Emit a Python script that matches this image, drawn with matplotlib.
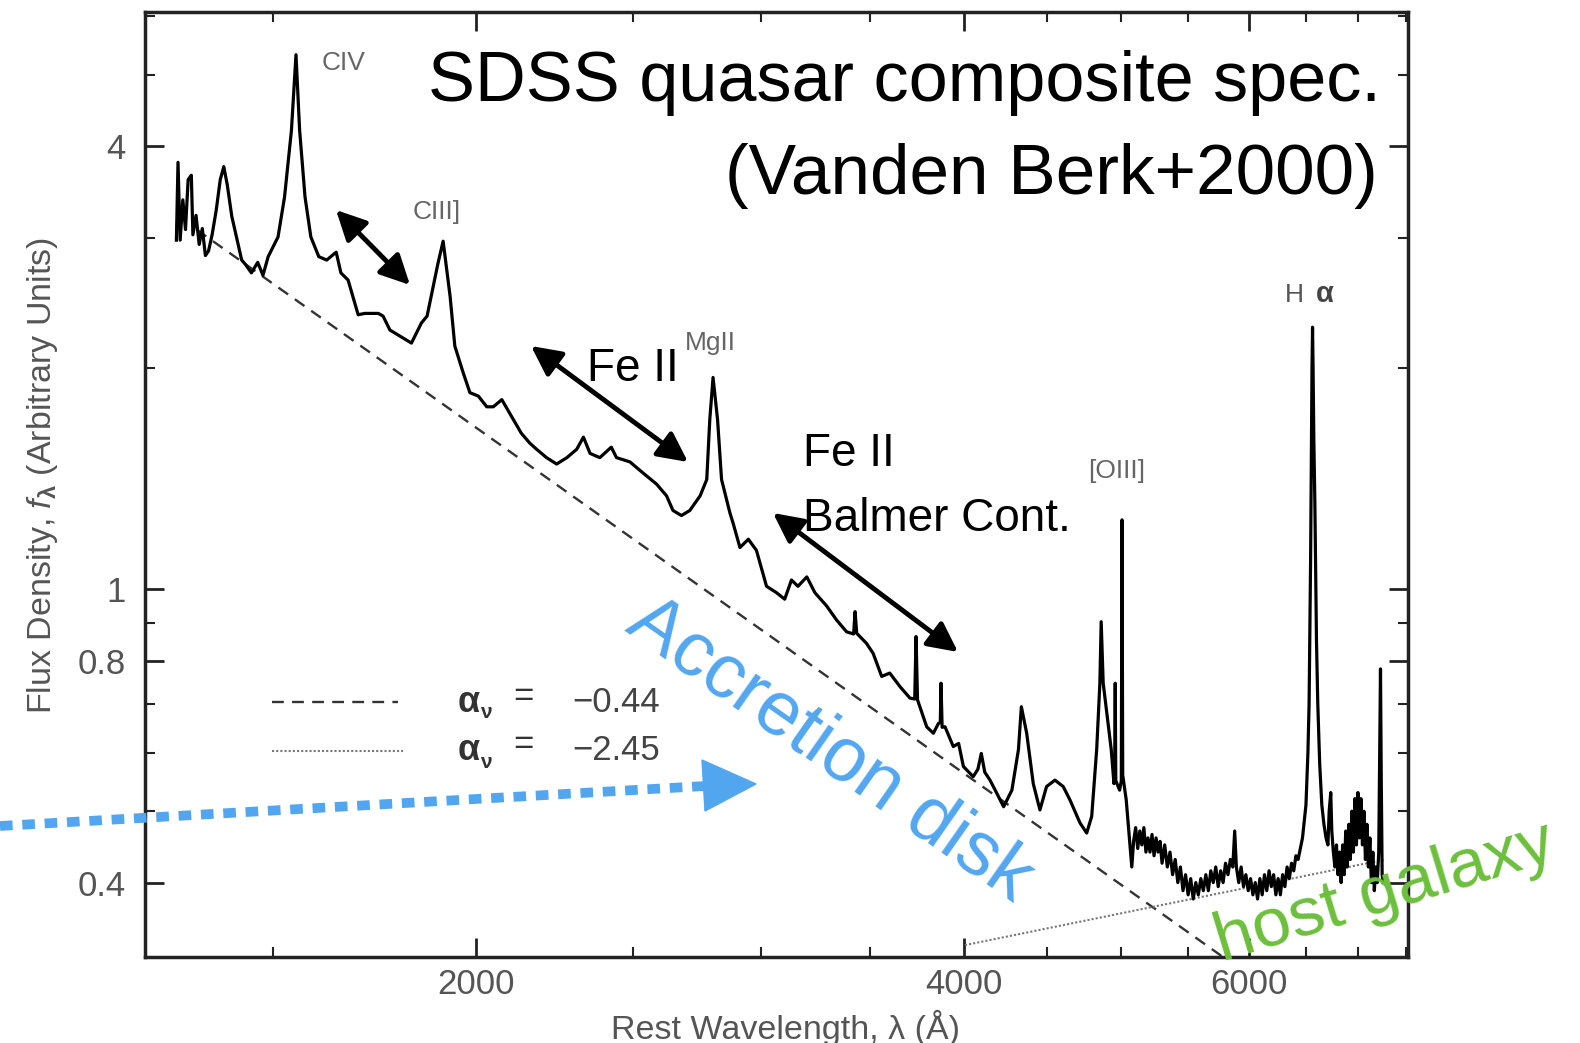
import numpy as np
import matplotlib.pyplot as plt
from matplotlib.ticker import FixedLocator, FixedFormatter, NullFormatter
from matplotlib.patches import Polygon

# composite spectrum (rest wavelength in A, f_lambda arbitrary)
wave = [1307, 1310, 1314, 1319, 1324, 1329, 1335, 1338, 1344, 1350,
        1356, 1362, 1368, 1375, 1383, 1391, 1398, 1405, 1414, 1434,
        1442, 1454, 1467, 1478, 1489, 1510, 1524, 1539, 1549, 1557,
        1569, 1582, 1600, 1618, 1640, 1651, 1668, 1692, 1708, 1741,
        1753, 1770, 1800, 1825, 1851, 1866, 1895, 1909, 1928, 1941,
        1964, 1983, 2007, 2031, 2050, 2075, 2100, 2133, 2159, 2180,
        2211, 2243, 2276, 2308, 2330, 2352, 2385, 2424, 2442, 2489,
        2535, 2585, 2622, 2646, 2678, 2710, 2750, 2776, 2788, 2801,
        2819, 2835, 2869, 2882, 2910, 2945, 2979, 3022, 3065, 3101,
        3131, 3160, 3200, 3237, 3291, 3338, 3386, 3420, 3427, 3435,
        3483, 3516, 3559, 3600, 3653, 3705, 3730, 3737, 3745, 3794,
        3830, 3858, 3868, 3872, 3878, 3894, 3940, 3970, 3997, 4053,
        4080, 4100, 4120, 4151, 4191, 4232, 4282, 4322, 4340, 4373,
        4414, 4456, 4498, 4552, 4606, 4650, 4717, 4762, 4796, 4830,
        4852, 4861, 4875, 4931, 4950, 4955, 4959, 4963, 4990, 5002,
        5007, 5012, 5037, 5077, 5090, 5105, 5120, 5135, 5150, 5165,
        5180, 5195, 5210, 5225, 5240, 5255, 5270, 5285, 5300, 5320,
        5340, 5360, 5380, 5400, 5420, 5440, 5460, 5480, 5500, 5520,
        5540, 5560, 5580, 5600, 5620, 5640, 5660, 5680, 5700, 5720,
        5740, 5760, 5780, 5800, 5820, 5840, 5860, 5876, 5890, 5910,
        5930, 5950, 5970, 5990, 6010, 6030, 6050, 6070, 6090, 6110,
        6130, 6150, 6170, 6190, 6210, 6230, 6250, 6270, 6290, 6310,
        6330, 6350, 6370, 6390, 6410, 6430, 6450, 6470, 6490, 6502,
        6520, 6531, 6545, 6552, 6558, 6563, 6568, 6575, 6585, 6600,
        6612, 6630, 6650, 6670, 6690, 6708, 6720, 6735, 6745, 6760,
        6775, 6790, 6805, 6820, 6835, 6850, 6865, 6880, 6895, 6910,
        6925, 6940, 6955, 6970, 6985, 7000, 7015, 7030, 7045, 7060,
        7075, 7090, 7105, 7120, 7135, 7150, 7165, 7180, 7195, 7210,
        7220, 7228, 7236, 7245, 7255]
flux = [2.98, 3.80, 2.98, 3.38, 3.08, 3.60, 3.65, 3.03, 3.22, 2.94,
        3.09, 2.84, 2.88, 3.03, 3.27, 3.60, 3.75, 3.54, 3.21, 2.80,
        2.76, 2.69, 2.78, 2.67, 2.83, 3.01, 3.41, 4.20, 5.32, 4.20,
        3.41, 3.01, 2.83, 2.80, 2.87, 2.69, 2.63, 2.36, 2.37, 2.37,
        2.35, 2.25, 2.20, 2.16, 2.30, 2.35, 2.77, 2.97, 2.50, 2.14,
        1.97, 1.85, 1.83, 1.77, 1.77, 1.81, 1.73, 1.63, 1.58, 1.55,
        1.51, 1.48, 1.51, 1.55, 1.61, 1.53, 1.51, 1.56, 1.51, 1.49,
        1.44, 1.39, 1.34, 1.28, 1.26, 1.28, 1.34, 1.41, 1.70, 1.94,
        1.70, 1.41, 1.27, 1.23, 1.14, 1.17, 1.13, 1.01, 0.99, 0.97,
        1.03, 1.01, 1.04, 0.99, 0.95, 0.909, 0.876, 0.87, 0.933, 0.872,
        0.845, 0.819, 0.762, 0.770, 0.738, 0.712, 0.71, 0.863, 0.708, 0.651,
        0.638, 0.658, 0.66, 0.746, 0.65, 0.651, 0.612, 0.618, 0.575, 0.557,
        0.57, 0.599, 0.565, 0.551, 0.529, 0.507, 0.534, 0.606, 0.693, 0.638,
        0.545, 0.502, 0.540, 0.551, 0.540, 0.518, 0.482, 0.467, 0.492, 0.606,
        0.746, 0.904, 0.746, 0.606, 0.545, 0.56, 0.746, 0.55, 0.534, 0.55,
        1.243, 0.56, 0.518, 0.420, 0.455, 0.475, 0.445, 0.47, 0.45, 0.475,
        0.44, 0.46, 0.44, 0.465, 0.435, 0.46, 0.44, 0.455, 0.425, 0.45,
        0.42, 0.44, 0.41, 0.43, 0.40, 0.42, 0.39, 0.41, 0.385, 0.405,
        0.38, 0.40, 0.385, 0.405, 0.39, 0.41, 0.39, 0.415, 0.40, 0.42,
        0.395, 0.415, 0.40, 0.425, 0.41, 0.43, 0.42, 0.47, 0.42, 0.40,
        0.42, 0.395, 0.41, 0.39, 0.405, 0.385, 0.40, 0.38, 0.405, 0.385,
        0.41, 0.39, 0.415, 0.395, 0.41, 0.385, 0.405, 0.385, 0.41, 0.395,
        0.42, 0.405, 0.425, 0.415, 0.435, 0.43, 0.445, 0.46, 0.49, 0.51,
        0.60, 0.70, 1.10, 1.5, 2.0, 2.27, 2.0, 1.6, 1.3, 0.85,
        0.70, 0.58, 0.51, 0.48, 0.46, 0.45, 0.50, 0.53, 0.47, 0.44,
        0.42, 0.45, 0.41, 0.44, 0.40, 0.45, 0.41, 0.47, 0.42, 0.48,
        0.43, 0.50, 0.44, 0.52, 0.45, 0.53, 0.46, 0.52, 0.45, 0.50,
        0.43, 0.48, 0.42, 0.46, 0.40, 0.44, 0.39, 0.42, 0.40, 0.44,
        0.60, 0.78, 0.55, 0.41, 0.40]

# power-law continua (end points of the straight lines in log-log)
disk_wave = [1345, 6000]
disk_flux = [3.08, 0.299]
host_wave = [4006, 7280]
host_flux = [0.329, 0.430]

xmajor = [2000, 4000, 6000]
xminor = [1500, 2500, 3000, 3500, 4500, 5000, 5500, 6500, 7000, 7500]
ymajor = [0.4, 0.8, 1, 4]
ymajor_labels = ['0.4', '0.8', '1', '4']
yminor = [0.5, 0.6, 0.7, 0.9, 2, 3, 5, 6]

blue = '#52a6f0'
green = '#6cbf3c'
gray = '#555555'

plt.rcParams['font.family'] = ['Liberation Sans', 'DejaVu Sans']
plt.rcParams['mathtext.fontset'] = 'custom'
plt.rcParams['mathtext.rm'] = 'Liberation Sans'
plt.rcParams['mathtext.it'] = 'Liberation Sans:italic'
plt.rcParams['mathtext.bf'] = 'Liberation Sans:bold'

fig = plt.figure(figsize=(15.8, 10.43), dpi=100)
ax = fig.add_axes([145 / 1580, 1 - 957 / 1043, 1263 / 1580, 945 / 1043])
ax.plot(wave, flux, color='black', lw=2.3, zorder=3)
ax.plot(disk_wave, disk_flux, color='#333333', lw=1.7, dashes=(5, 3.5))
ax.plot(host_wave, host_flux, color='#777777', lw=1.5, dashes=(1, 1))
ax.set_xscale('log')
ax.set_yscale('log')
ax.set_xlim(1250, 7516)
ax.set_ylim(0.317, 6.08)

ax.xaxis.set_major_locator(FixedLocator(xmajor))
ax.xaxis.set_major_formatter(FixedFormatter([str(v) for v in xmajor]))
ax.xaxis.set_minor_locator(FixedLocator(xminor))
ax.xaxis.set_minor_formatter(NullFormatter())
ax.yaxis.set_major_locator(FixedLocator(ymajor))
ax.yaxis.set_major_formatter(FixedFormatter(ymajor_labels))
ax.yaxis.set_minor_locator(FixedLocator(yminor))
ax.yaxis.set_minor_formatter(NullFormatter())

ax.tick_params(which='both', direction='in', top=True, right=True, color='#222222')
ax.tick_params(which='major', length=14, width=2, labelsize=25, labelcolor=gray)
ax.tick_params(which='minor', length=7, width=1.5)
ax.tick_params(axis='x', which='major', pad=8)
ax.tick_params(axis='y', which='major', pad=14)
for s in ax.spines.values():
    s.set_linewidth(2.5)
    s.set_color('#222222')

ax.set_xlabel('Rest Wavelength, λ (Å)', fontsize=24.5, color=gray)
ax.xaxis.set_label_coords(0.507, -0.056)
ax.set_ylabel(r'Flux Density, $f_{\mathbf{\lambda}}$ (Arbitrary Units)', fontsize=24.5, color=gray)
ax.yaxis.set_label_coords(-0.067, 0.509)

# overlay in figure pixels for the annotations
ov = fig.add_axes([0, 0, 1, 1], zorder=5)
ov.set_xlim(0, 1580)
ov.set_ylim(1043, 0)
ov.axis('off')
ov.patch.set_alpha(0)

# legend of the power laws
ov.plot([272, 398], [702, 702], color='#333333', lw=1.7, dashes=(5, 3.5))
ov.plot([272, 403], [751, 751], color='#777777', lw=1.5, dashes=(1, 1))
for yy, val in [(702, '−0.44'), (751, '−2.45')]:
    ov.text(458, yy, 'α', fontsize=26, fontweight='bold', color='#333333', va='center')
    ov.text(480, yy + 11, 'ν', fontsize=15, fontweight='bold', color='#333333', va='center')
    ov.text(513, yy - 6, '=', fontsize=25, color='#333333', va='center')
    ov.text(572, yy, val, fontsize=25, color='#444444', va='center')

# line labels
ov.text(322, 70, 'CIV', fontsize=19, color='#666666', va='baseline')
ov.text(413, 219, 'CIII]', fontsize=19, color='#666666', va='baseline')
ov.text(685, 350, 'MgII', fontsize=19, color='#666666', va='baseline')
ov.text(1088, 478, '[OIII]', fontsize=19, color='#666666', va='baseline')
ov.text(1285, 302, 'H', fontsize=19, color='#555555', va='baseline')
ov.text(1316, 302, 'α', fontsize=21, fontweight='bold', color='#444444', va='baseline')

# title
ov.text(1381, 101, 'SDSS quasar composite spec.', fontsize=50.6, ha='right', va='baseline')
ov.text(1378, 194, '(Vanden Berk+2000)', fontsize=51.2, ha='right', va='baseline')

# Fe II annotations
arrow = dict(arrowstyle='<|-|>,head_length=0.9,head_width=0.45', color='black',
             lw=3.5, shrinkA=0, shrinkB=0, mutation_scale=20)
ov.annotate('', xy=(336, 210), xytext=(410, 285), arrowprops=arrow)
ov.annotate('', xy=(531, 346), xytext=(688, 462), arrowprops=arrow)
ov.annotate('', xy=(773, 513), xytext=(958, 652), arrowprops=arrow)
ov.text(587, 381, 'Fe II', fontsize=33, va='baseline')
ov.text(803, 466, 'Fe II', fontsize=33, va='baseline')
ov.text(803, 531, 'Balmer Cont.', fontsize=33, va='baseline')

# accretion disk
ov.text(830, 751, 'Accretion disk', fontsize=55, color=blue, rotation=-35,
        ha='center', va='center', rotation_mode='anchor')
ov.plot([0, 705], [826, 786], color=blue, lw=7, dashes=(1.3, 1.0), solid_capstyle='butt')
ov.add_patch(Polygon([(702, 760), (756, 784), (705, 811)], closed=True, color=blue))

# host galaxy
ov.text(1385, 893, 'host galaxy', fontsize=50, color=green, rotation=17,
        ha='center', va='center', rotation_mode='anchor')

fig.savefig('out.png', dpi=100)
